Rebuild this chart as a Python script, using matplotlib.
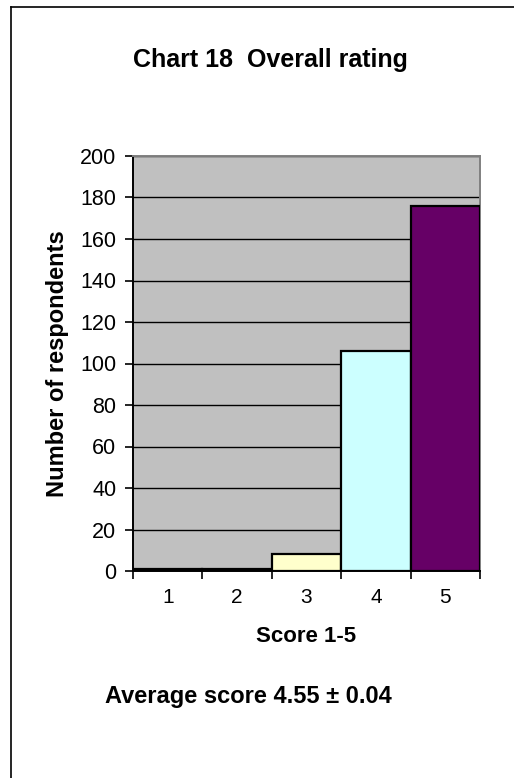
import matplotlib
matplotlib.use("Agg")
import matplotlib.pyplot as plt
from matplotlib.lines import Line2D

plt.rcParams['font.family'] = ['Liberation Sans', 'DejaVu Sans']

# Survey results: number of respondents per score
scores = [1, 2, 3, 4, 5]
respondents = [1, 1, 8, 106, 176]
bar_colors = ['#9999FF', '#993366', '#FFFFCC', '#CCFFFF', '#660066']
y_ticks = [0, 20, 40, 60, 80, 100, 120, 140, 160, 180, 200]

W, H = 514, 778
fig = plt.figure(figsize=(W / 100, H / 100), dpi=100)
fig.patch.set_facecolor('white')

ax = fig.add_axes([133 / W, 1 - 571 / H, (480 - 133) / W, (571 - 156) / H])
ax.set_facecolor('#C0C0C0')

ax.bar(scores, respondents, width=1.0, color=bar_colors,
       edgecolor='black', linewidth=1.6, zorder=3)

ax.set_xlim(0.5, 5.5)
ax.set_ylim(0, 200)
ax.set_yticks(y_ticks)
ax.yaxis.grid(True, color='black', linewidth=1.0, zorder=1)
ax.set_axisbelow(True)

# Category labels centred, tick marks on the bar boundaries
ax.set_xticks(scores)
ax.set_xticks([s + 0.5 for s in [0] + scores], minor=True)
ax.tick_params(axis='x', which='major', length=0, pad=12, labelsize=15)
ax.tick_params(axis='x', which='minor', length=6, width=1.2, direction='out')
ax.tick_params(axis='y', length=6, width=1.2, direction='out', labelsize=15.5, pad=6)

for side in ('left', 'bottom'):
    ax.spines[side].set_color('black')
    ax.spines[side].set_linewidth(1.4)
for side in ('top', 'right'):
    ax.spines[side].set_color('#808080')
    ax.spines[side].set_linewidth(1.4)

ax.set_ylabel('Number of respondents', fontsize=17, fontweight='bold', labelpad=8)

fig.text(270 / W, 1 - 60 / H, 'Chart 18  Overall rating', ha='center', va='center',
         fontsize=18, fontweight='bold')
fig.text(306 / W, 1 - 636 / H, 'Score 1-5', ha='center', va='center',
         fontsize=16, fontweight='bold')
fig.text(248 / W, 1 - 697 / H, 'Average score 4.55 \u00b1 0.04', ha='center', va='center',
         fontsize=17, fontweight='bold')

# Outer frame (left and top edges)
fig.add_artist(Line2D([11 / W, 11 / W], [0, 1 - 7 / H], color='black', linewidth=1.2,
                      transform=fig.transFigure))
fig.add_artist(Line2D([11 / W, 1], [1 - 7 / H, 1 - 7 / H], color='black', linewidth=1.2,
                      transform=fig.transFigure))

fig.savefig('out.png', dpi=100, facecolor='white')
